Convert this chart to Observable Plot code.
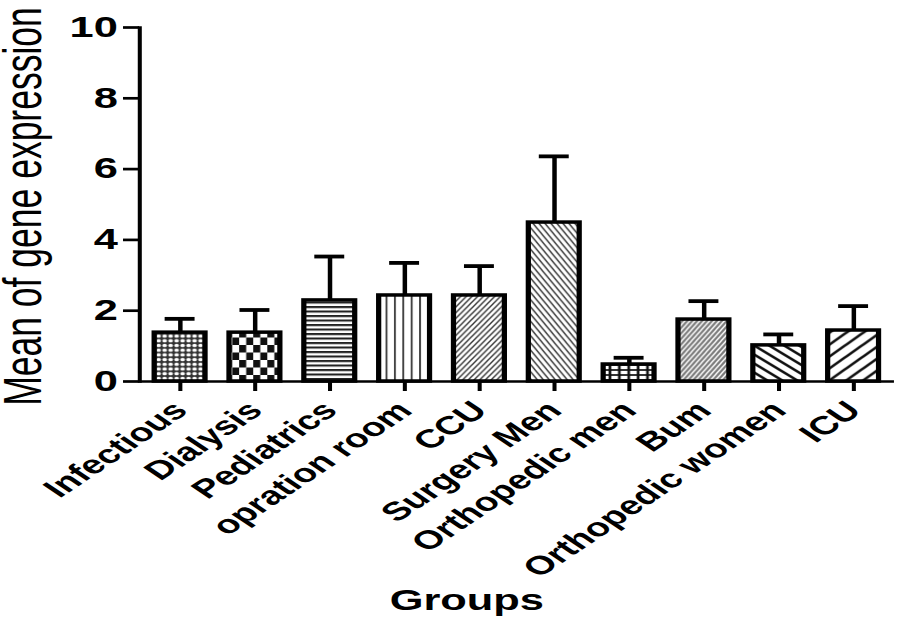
<!DOCTYPE html>
<html><head><meta charset="utf-8">
<script src="https://cdn.jsdelivr.net/npm/d3@7"></script>
<script src="https://cdn.jsdelivr.net/npm/@observablehq/plot@0.6"></script>
<style>html,body{margin:0;padding:0;background:#fff;} #chart{width:898px;height:625px;overflow:hidden;}</style>
</head><body><div id="chart"></div>
<script>
// ---- data ----
const groups = ["Infectious","Dialysis","Pediatrics","opration room","CCU","Surgery Men","Orthopedic men","Bum","Orthopedic women","ICU"];
const means  = [1.38, 1.38, 2.29, 2.43, 2.43, 4.49, 0.48, 1.75, 1.02, 1.44];
const errors = [0.39, 0.64, 1.24, 0.92, 0.83, 1.87, 0.19, 0.52, 0.31, 0.69];
const yTicks = [0, 2, 4, 6, 8, 10];
const xTitle = "Groups";
const yTitle = "Mean of gene expression";

const data = groups.map((g, i) => ({group: g, mean: means[i], top: means[i] + errors[i], pat: `url(#pat${i})`}));

// ---- layout (internal width stretched horizontally to 898) ----
const W = 600, H = 625;
const font = "'Liberation Sans', Arial, Helvetica, sans-serif";

const svg = Plot.plot({
  width: W, height: H,
  marginLeft: 92.9, marginRight: 2.7, marginTop: 27, marginBottom: 244,
  x: {domain: groups, paddingInner: 0.325, paddingOuter: 0.1625},
  y: {domain: [0, 10]},
  color: {type: "identity"},
  style: {fontFamily: font, color: "black", background: "white"},
  marks: [
    Plot.barY(data, {x: "group", y: "mean", fill: "pat", stroke: "black", strokeWidth: 3.5}),
    Plot.ruleX(data, {x: "group", y1: "mean", y2: "top", stroke: "black", strokeWidth: 3}),
    Plot.tickY(data, {x: "group", y: "top", stroke: "black", strokeWidth: 3.8, insetLeft: 7, insetRight: 7}),
    Plot.ruleY([0], {stroke: "black", strokeWidth: 2.7}),
    Plot.frame({anchor: "left", stroke: "black", strokeWidth: 2.7}),
    Plot.axisY({ticks: yTicks, tickSize: 10.7, tickPadding: 4, fontSize: 29, fontWeight: "bold", strokeWidth: 2.7, label: null, tickFormat: d => String(d)}),
    Plot.axisX({tickSize: 10, tickFormat: () => "", strokeWidth: 2.7, label: null}),
    Plot.text(data, {x: "group", text: "group", frameAnchor: "bottom", rotate: -45, textAnchor: "end", lineAnchor: "top", dx: -7, dy: 17.5, fontSize: 26, fontWeight: "bold"}),
    Plot.text([xTitle], {text: d => d, frameAnchor: "bottom", dx: -33.7, dy: 228, fontSize: 29, fontWeight: "bold"}),
    Plot.text([yTitle], {text: d => d, frameAnchor: "left", rotate: -90, dx: -77.4, dy: 2, fontSize: 35.5, textAnchor: "middle"})
  ]
});

// ---- fill patterns ----
const defs = d3.select(svg).insert("defs", ":first-child");
function pat(id, w, h) {
  return defs.append("pattern").attr("id", id).attr("patternUnits", "userSpaceOnUse")
    .attr("width", w).attr("height", h);
}
function hatch(id, w, h, dir, color, sw, bg) {
  const p = pat(id, w, h);
  if (bg) p.append("rect").attr("width", w).attr("height", h).attr("fill", bg);
  let d = "";
  for (const k of [-1, 0, 1]) {
    if (dir === "/") d += `M${k*w - w},${2*h}L${k*w + 2*w},${-h}`;
    else d += `M${k*w - w},${-h}L${k*w + 2*w},${2*h}`;
  }
  p.append("path").attr("d", d).attr("stroke", color).attr("stroke-width", sw).attr("fill", "none");
}
// 0 Infectious: white dots on dark
{ const p = pat("pat0", 4, 4.7);
  p.append("rect").attr("width", 4).attr("height", 4.7).attr("fill", "#333");
  p.append("ellipse").attr("cx", 2).attr("cy", 2.35).attr("rx", 1.5).attr("ry", 1.75).attr("fill", "#fff"); }
// 1 Dialysis: checkerboard
{ const p = pat("pat1", 9.4, 15);
  p.append("rect").attr("width", 9.4).attr("height", 15).attr("fill", "#fff");
  p.append("rect").attr("x", 0).attr("y", 0).attr("width", 4.7).attr("height", 7.5).attr("fill", "#111");
  p.append("rect").attr("x", 4.7).attr("y", 7.5).attr("width", 4.7).attr("height", 7.5).attr("fill", "#111"); }
// 2 Pediatrics: horizontal lines
{ const p = pat("pat2", 4, 4.5);
  p.append("rect").attr("width", 4).attr("height", 4.5).attr("fill", "#fff");
  p.append("rect").attr("width", 4).attr("height", 2.1).attr("fill", "#222"); }
// 3 opration room: vertical lines
{ const p = pat("pat3", 5.6, 4);
  p.append("rect").attr("width", 5.6).attr("height", 4).attr("fill", "#fff");
  p.append("rect").attr("width", 1.3).attr("height", 4).attr("fill", "#444"); }
// 4 CCU: fine "/" hatch
hatch("pat4", 3.8, 5.7, "/", "#333", 1.1, "#fff");
// 5 Surgery Men: fine "\" hatch
hatch("pat5", 4, 7.2, "\\", "#333", 1.1, "#fff");
// 6 Orthopedic men: grid of white cells on black
{ const p = pat("pat6", 6.27, 5);
  p.append("rect").attr("width", 6.27).attr("height", 5).attr("fill", "#111");
  p.append("rect").attr("x", 0.9).attr("y", 0.85).attr("width", 4.47).attr("height", 3.3).attr("fill", "#fff"); }
// 7 Burn: white "/" on grey
hatch("pat7", 3.3, 5.5, "/", "#fff", 1.1, "#7a7a7a");
// 8 Orthopedic women: wide "\" hatch
hatch("pat8", 10, 9, "\\", "#111", 2.2, "#fff");
// 9 ICU: wide "/" hatch
hatch("pat9", 11.3, 11.9, "/", "#111", 2.2, "#fff");

svg.setAttribute("viewBox", `0 0 ${W} ${H}`);
svg.setAttribute("width", 898);
svg.setAttribute("height", 625);
svg.setAttribute("preserveAspectRatio", "none");
svg.style.width = "898px";
svg.style.height = "625px";
svg.style.maxWidth = "none";
document.getElementById("chart").appendChild(svg);
</script>
</body></html>
